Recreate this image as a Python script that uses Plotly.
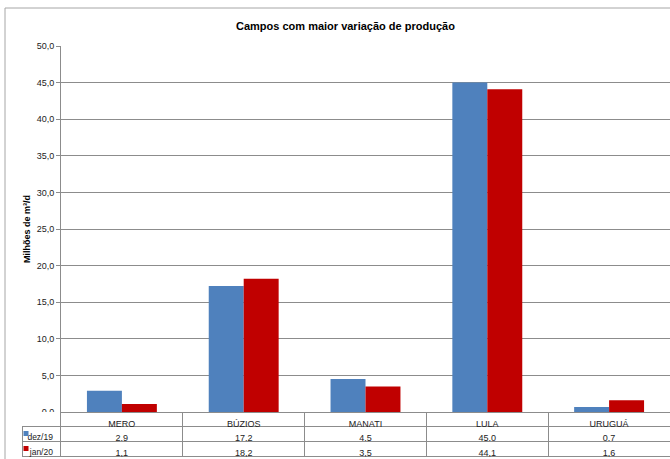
import plotly.graph_objects as go

campos = ["MERO", "BÚZIOS", "MANATI", "LULA", "URUGUÁ"]
dez19 = [2.9, 17.2, 4.5, 45.0, 0.7]
jan20 = [1.1, 18.2, 3.5, 44.1, 1.6]
series_names = ["dez/19", "jan/20"]
y_ticks = [0, 5, 10, 15, 20, 25, 30, 35, 40, 45, 50]

BLUE = "#4F81BD"
RED = "#C00000"
GRID = "#8C8C8C"
FONT = "Liberation Sans Narrow, Arial Narrow, Liberation Sans, sans-serif"
W, H = 670, 459


def fmt(v):
    return f"{v:.1f}".replace(".", ",")


def px(x):
    return x / W


def py(y):
    return 1 - y / H


fig = go.Figure()

fig.add_trace(go.Bar(x=campos, y=dez19, name=series_names[0], marker_color=BLUE))
fig.add_trace(go.Bar(x=campos, y=jan20, name=series_names[1], marker_color=RED))

# data table under the chart
cols = [series_names] + [[fmt(a), fmt(b)] for a, b in zip(dez19, jan20)]
fig.add_trace(go.Table(
    domain=dict(x=[px(22), 1], y=[py(457), py(412)]),
    columnwidth=[39] + [122] * len(campos),
    header=dict(
        values=[""] + campos,
        height=14,
        align="center",
        fill_color="white",
        line=dict(color=["rgba(0,0,0,0)"] + [GRID] * len(campos), width=1),
        font=dict(family=FONT, size=9, color="#222"),
    ),
    cells=dict(
        values=cols,
        height=15,
        align=["right"] + ["center"] * len(campos),
        fill_color="white",
        line=dict(color=GRID, width=1),
        font=dict(family=FONT, size=[8.5] + [9] * len(campos), color="#222"),
    ),
))

fig.update_layout(
    width=W, height=H,
    margin=dict(l=0, r=0, t=0, b=0),
    paper_bgcolor="white",
    plot_bgcolor="white",
    template="none",
    separators=",.",
    showlegend=False,
    barmode="group",
    bargap=0.426,
    bargroupgap=0,
    font=dict(family=FONT, size=9, color="#222"),
    xaxis=dict(
        domain=[px(61), 1],
        showticklabels=False,
        showgrid=False,
        ticks="",
        showline=True, linecolor=GRID,
        automargin=False,
    ),
    yaxis=dict(
        domain=[py(412), py(46)],
        range=[0, 50],
        tickvals=y_ticks,
        tickformat=".1f",
        ticks="outside", ticklen=4, tickcolor=GRID,
        showgrid=True, gridcolor=GRID, gridwidth=1,
        showline=True, linecolor=GRID,
        zeroline=False,
        tickfont=dict(size=9),
        automargin=False,
    ),
)

fig.add_annotation(
    text="<b>Campos com maior variação de produção</b>",
    x=px(345), y=py(26), xref="paper", yref="paper",
    xanchor="center", yanchor="middle",
    showarrow=False, font=dict(size=11, color="#000"),
)
fig.add_annotation(
    text="<b>Milhões de m³/d</b>",
    x=px(27), y=py(229), xref="paper", yref="paper",
    xanchor="center", yanchor="middle",
    showarrow=False, textangle=-90, font=dict(size=9, color="#000"),
)

# legend keys in the table row labels
for row_y, color in ((433.5, BLUE), (448.5, RED)):
    fig.add_shape(type="rect", xref="paper", yref="paper",
                  x0=px(23.5), x1=px(28.5), y0=py(row_y + 2.5), y1=py(row_y - 2.5),
                  fillcolor=color, line=dict(width=0))

# chart border
fig.add_shape(type="rect", xref="paper", yref="paper",
              x0=px(5), x1=1.02, y0=-0.02, y1=py(8),
              line=dict(color="#A6A6A6", width=1))

fig.write_html("out.html", config={"displayModeBar": False},
               post_script="document.body.style.margin='0';")
